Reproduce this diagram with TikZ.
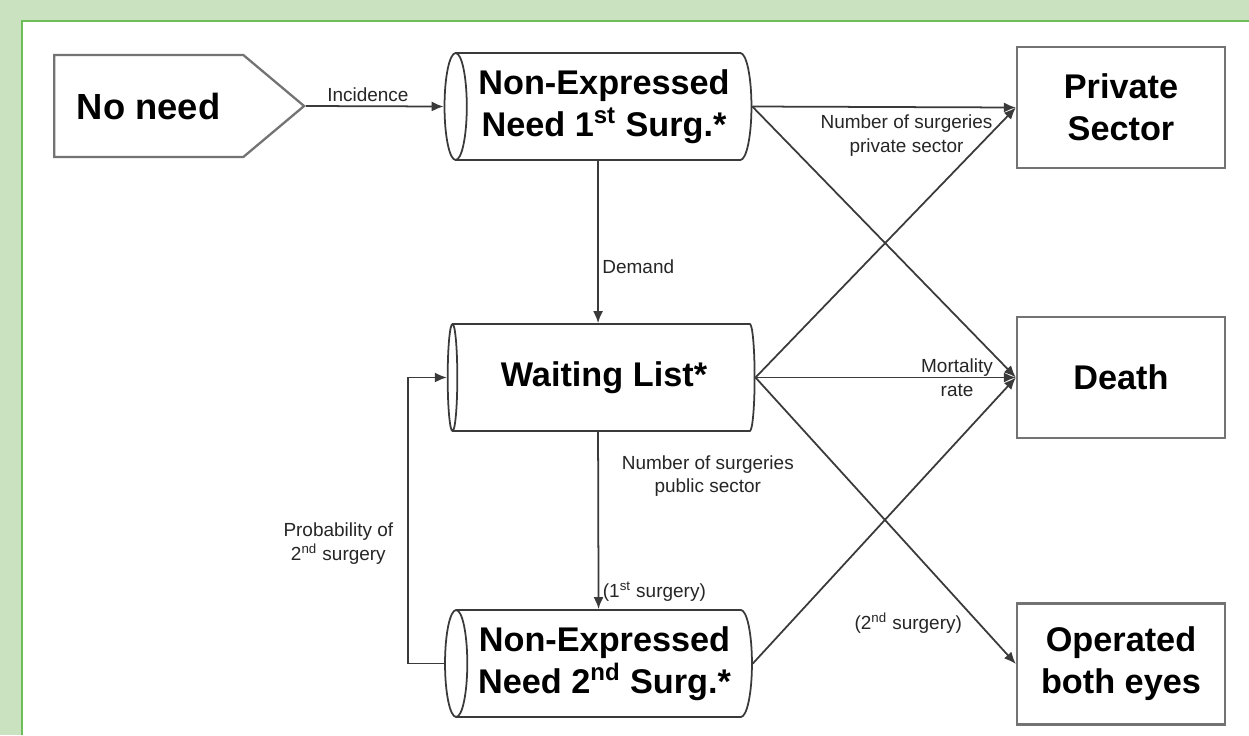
\documentclass[tikz,border=0pt]{standalone}
\usepackage{fontspec}
\setmainfont{Liberation Sans}
\usetikzlibrary{arrows.meta,shapes.geometric,shapes.symbols,positioning}
\definecolor{framegreen}{HTML}{CBE2C0}
\definecolor{edgegreen}{HTML}{6DBE58}
\definecolor{linegray}{HTML}{3A3A3A}
\tikzset{
  stock/.style     = {cylinder, shape border rotate=180, aspect=0.3, draw=linegray,
                      line width=1pt, fill=white, minimum width=2.14cm, minimum height=6.14cm,
                      font=\fontsize{19.5}{24}\selectfont\bfseries, align=center, inner sep=0pt},
  sink/.style      = {rectangle, draw=gray!90!black, line width=1.3pt, fill=white,
                      minimum width=4.16cm, minimum height=2.42cm,
                      font=\fontsize{19.5}{24}\selectfont\bfseries, align=center},
  source/.style    = {signal, signal to=east, signal pointer angle=80, draw=gray!90!black,
                      line width=1.3pt, fill=white, minimum width=5cm, minimum height=2.04cm,
                      font=\fontsize{20.7}{24}\selectfont\bfseries},
  flow/.style      = {-{Latex[length=2.4mm,width=2mm]}, line width=1pt, draw=linegray},
  flowlabel/.style = {font=\fontsize{10.8}{13.5}\selectfont, text=black!85, align=center,
                      inner sep=2pt},
}

\begin{document}
\begin{tikzpicture}[x=0.02cm, y=-0.02cm]
  \useasboundingbox (0,0) rectangle (1249,735);
  % frame
  \fill[framegreen] (0,0) rectangle (1249,735);
  \fill[white] (22,21) rectangle (1249,735);
  \draw[edgegreen, line width=0.8pt] (22,735) -- (22,21) -- (1249,21);

  % stocks and sinks
  \node[source, anchor=west] (noneed) at (53,106) {No need};
  \node[stock] (ne1) at (604,106.5) {Non-Expressed\\Need 1\textsuperscript{st} Surg.*};
  \node[stock] (wl)  at (604,377.5) {Waiting List*};
  \node[stock] (ne2) at (604.5,663.5) {Non-Expressed\\Need 2\textsuperscript{nd} Surg.*};
  \node[sink] (priv)  at (1121,107.5) {Private\\Sector};
  \node[sink] (death) at (1121,377.5) {Death};
  \node[sink] (both)  at (1121,664)   {Operated\\both eyes};

  % flows
  \draw[flow] (noneed.east) -- node[flowlabel, above, pos=0.45] {Incidence} (ne1.west);
  \draw[flow] ([xshift=-3.4pt]ne1.south) -- node[flowlabel, right, pos=0.65] {Demand} ([xshift=-3.4pt]wl.north);
  \draw[flow] ([xshift=-3.4pt]wl.south) -- node[flowlabel, right, pos=0.25, xshift=11pt] {Number of surgeries\\public sector}
                            node[flowlabel, right, pos=0.9] {(1\textsuperscript{st} surgery)} ([xshift=-3.4pt]ne2.north);
  \draw[flow] (ne2.west) -- ++(-36,0) |- node[flowlabel, left, pos=0.21, xshift=-6pt] {Probability of\\2\textsuperscript{nd} surgery} (wl.west);
  \draw[flow] (ne1.east) -- node[flowlabel, below, pos=0.585, yshift=-2pt] {Number of surgeries\\private sector} (priv.west);
  \draw[flow] (ne1.east) -- (death.west);
  \draw[flow] (wl.east) -- (priv.west);
  \draw[flow] (wl.east) -- node[flowlabel, pos=0.774] {Mortality\\rate} (death.west);
  \draw[flow] (wl.east) -- node[flowlabel, left, pos=0.85, xshift=-6pt, yshift=-1pt] {(2\textsuperscript{nd} surgery)} (both.west);
  \draw[flow] (ne2.east) -- (death.west);
\end{tikzpicture}
\end{document}
